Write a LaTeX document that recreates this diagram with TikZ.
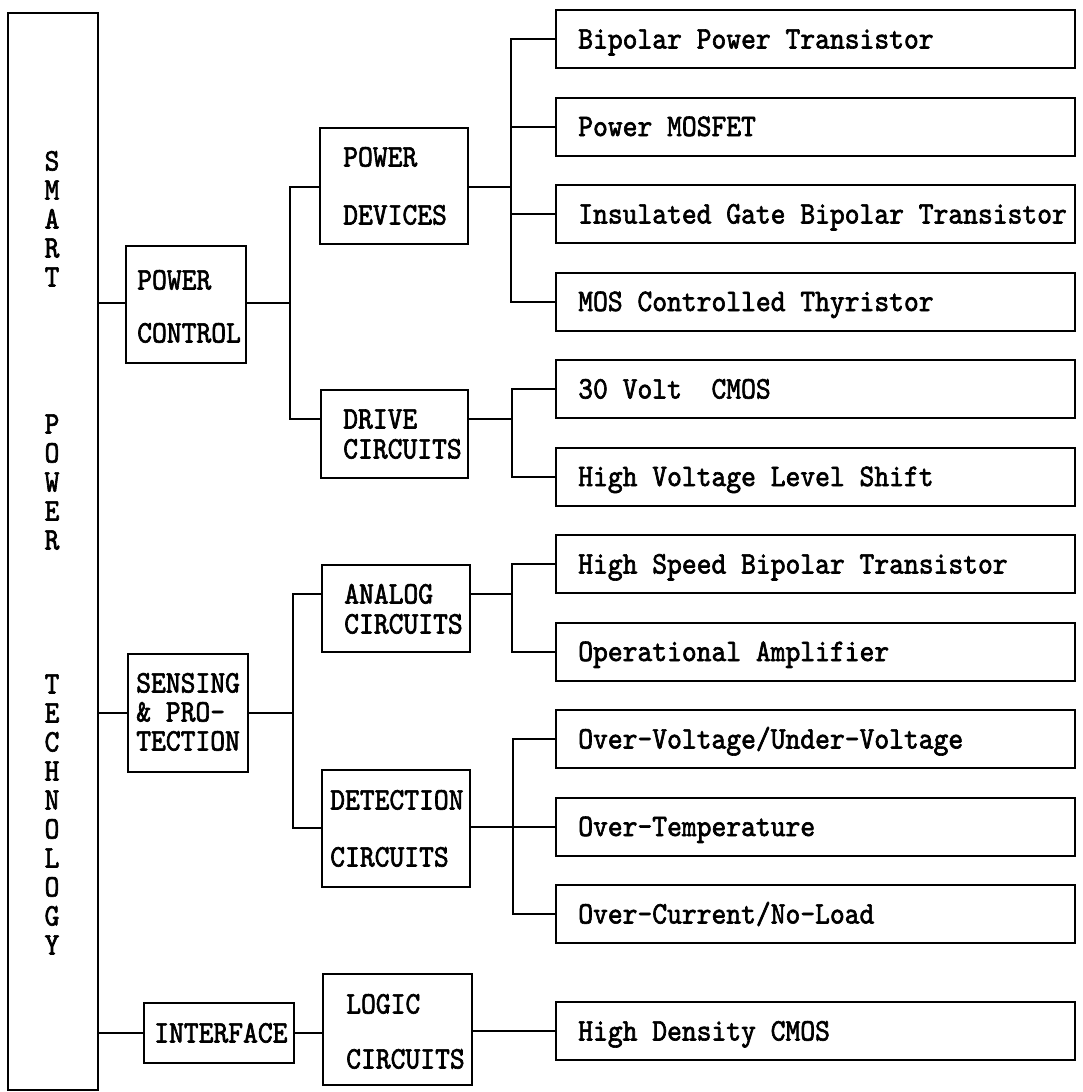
\documentclass[tikz,border=0pt]{standalone}
\usepackage{fontspec}
\newfontfamily\tfont{lmmono10-regular}[Extension=.otf, FakeStretch=0.9, FakeBold=2]
\usetikzlibrary{fit}
\tikzset{
  box/.style={draw, line width=1.5pt, inner sep=0pt},
  conn/.style={line width=1.5pt},
  lbl/.style={font=\tfont\fontsize{23.5pt}{28pt}\selectfont, anchor=base west, inner sep=0pt},
  vlt/.style={font=\tfont\fontsize{23.5pt}{28pt}\selectfont, anchor=base, inner sep=0pt}
}
\begin{document}
\begin{tikzpicture}[x=0.75pt,y=-0.75pt]
\useasboundingbox (0,0) rectangle (1082,1092);
% main box
\node[box, fit={(8,13) (98,1090)}] (main) {};
\foreach \c [count=\k from 0] in {S,M,A,R,T}
  \node[vlt] (ls\k) at (52,161+29*\k+9.5) {\c};
\foreach \c [count=\k from 0] in {P,O,W,E,R}
  \node[vlt] (lp\k) at (52,424+29*\k+9.5) {\c};
\foreach \c [count=\k from 0] in {T,E,C,H,N,O,L,O,G,Y}
  \node[vlt] (lt\k) at (52,684+29*\k+9.5) {\c};
% level 1
\node[box, fit={(126,246) (246,363)}] (pc) {};
\node[lbl] (pc1) at (137,280+9.5) {POWER};
\node[lbl] (pc2) at (137,333+9.5) {CONTROL};
\node[box, fit={(128,654) (248,772)}] (sp) {};
\node[lbl] (sp1) at (136,683+9.5) {SENSING};
\node[lbl] (sp2) at (136,712+9.5) {\& PRO-};
\node[lbl] (sp3) at (136,741+9.5) {TECTION};
\node[box, fit={(144,1003) (294,1063)}] (if) {};
\node[lbl] (if1) at (154,1033+9.5) {INTERFACE};
% level 2
\node[box, fit={(320,128) (468,244)}] (pd) {};
\node[lbl] (pd1) at (343,157+9.5) {POWER};
\node[lbl] (pd2) at (343,215+9.5) {DEVICES};
\node[box, fit={(321,390) (468,478)}] (dc) {};
\node[lbl] (dc1) at (343,419+9.5) {DRIVE};
\node[lbl] (dc2) at (343,449+9.5) {CIRCUITS};
\node[box, fit={(322,565) (470,652)}] (ac) {};
\node[lbl] (ac1) at (344,594+9.5) {ANALOG};
\node[lbl] (ac2) at (344,624+9.5) {CIRCUITS};
\node[box, fit={(322,770) (470,887)}] (dt) {};
\node[lbl] (dt1) at (330,800+9.5) {DETECTION};
\node[lbl] (dt2) at (330,857+9.5) {CIRCUITS};
\node[box, fit={(323,974) (472,1085)}] (lc) {};
\node[lbl] (lc1) at (346,1004+9.5) {LOGIC};
\node[lbl] (lc2) at (346,1059+9.5) {CIRCUITS};
% level 3
\foreach \i/\t in {1/{Bipolar Power Transistor}, 2/{Power MOSFET},
  3/{Insulated Gate Bipolar Transistor}, 4/{MOS Controlled Thyristor},
  5/{30 Volt\ \ CMOS}, 6/{High Voltage Level Shift},
  7/{High Speed Bipolar Transistor}, 8/{Operational Amplifier},
  9/{Over-Voltage/Under-Voltage}, 10/{Over-Temperature}, 11/{Over-Current/No-Load}}{
  \pgfmathsetmacro\tp{10+87.5*(\i-1)}
  \node[box, fit={(556,\tp) (1075,\tp+58)}] (r\i) {};
  \node[lbl] (rt\i) at (578,\tp+29+9.5) {\t};
}
\node[box, fit={(556,1002) (1075,1060)}] (r12) {};
\node[lbl] (rt12) at (578,1031+9.5) {High Density CMOS};
% junction coordinates
\coordinate (kpc) at (290,303);
\coordinate (kdc) at (290,419);
\coordinate (kpd) at (511,187);
\coordinate (kdr) at (512,419);
\coordinate (kac) at (293,594);
\coordinate (kdt) at (293,828);
\coordinate (kan) at (512,594);
\coordinate (kde) at (513,828);
% connectors from main
\draw[conn] (main.east |- kpc) -- (pc.west |- kpc);
\draw[conn] (main.east |- sp.west) -- (sp.west);
\draw[conn] (main.east |- if.west) -- (if.west);
% power control
\draw[conn] (pc.east |- kpc) -- (kpc);
\draw[conn] (pd.west |- kpd) -| (kdc) -- (dc.west |- kdc);
% power devices
\draw[conn] (pd.east |- kpd) -- (kpd);
\draw[conn] (r1.west) -| (kpd |- r4.west) -- (r4.west);
\draw[conn] (kpd |- r2.west) -- (r2.west);
\draw[conn] (kpd |- r3.west) -- (r3.west);
% drive
\draw[conn] (dc.east |- kdr) -- (kdr);
\draw[conn] (r5.west) -| (kdr |- r6.west) -- (r6.west);
% sensing
\draw[conn] (sp.east) -- (kac |- sp.east);
\draw[conn] (ac.west |- kac) -- (kac) -- (kdt) -- (dt.west |- kdt);
% analog
\draw[conn] (ac.east |- kan) -- (kan);
\draw[conn] (r7.west) -| (kan |- r8.west) -- (r8.west);
% detection
\draw[conn] (dt.east |- r10.west) -- (r10.west);
\draw[conn] (r9.west) -| (kde |- r11.west) -- (r11.west);
% interface / logic
\draw[conn] (if.east) -- (lc.west |- if.east);
\draw[conn] (lc.east |- r12.west) -- (r12.west);
\end{tikzpicture}
\end{document}
